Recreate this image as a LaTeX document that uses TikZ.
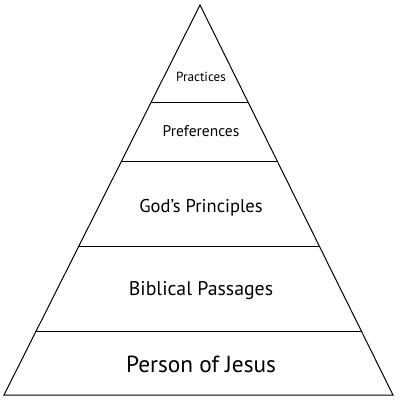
\documentclass[tikz,border=0pt]{standalone}
\usepackage{fontspec}
\setmainfont{PT Sans}
\usetikzlibrary{calc}

\begin{document}
\begin{tikzpicture}[x=1pt, y=-1pt, line width=1pt]
  \useasboundingbox (0,0) rectangle (400,400);
  % outer triangle
  \coordinate (apex) at (200,5);
  \coordinate (bl) at (4,395);
  \coordinate (br) at (393,395);
  \draw (apex) -- (bl) -- (br) -- cycle;
  % tier dividers: fraction of the way down the sides
  \foreach \t [count=\n] in {0.249, 0.400, 0.618, 0.836}{
    \coordinate (L\n) at ($(apex)!\t!(bl)$);
    \coordinate (R\n) at ($(apex)!\t!(br)$);
    \draw (L\n) -- (R\n);
  }
  % tier labels: y, font size, text
  \foreach \y/\fs/\lab [count=\n] in {%
    77/13.2/{Practices},%
    131/15.5/{Preferences},%
    208/18.5/{God’s Principles},%
    291/19.8/{Biblical Passages},%
    364/23.3/{Person of Jesus}}{%
      \node[font=\fontsize{\fs}{\fs}\selectfont, inner sep=0pt] (T\n) at (201,\y) {\lab};
  }
\end{tikzpicture}
\end{document}
